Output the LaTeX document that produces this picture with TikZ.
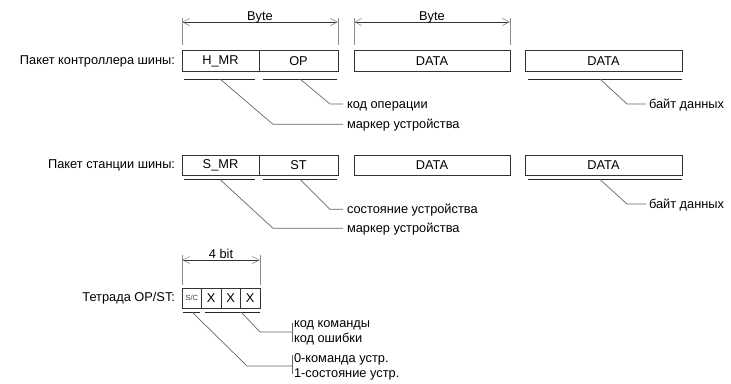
\documentclass[tikz,border=0pt]{standalone}
\usepackage{fontspec}
\setmainfont{Liberation Sans}
\usetikzlibrary{arrows.meta}
\begin{document}
\begin{tikzpicture}[x=1pt,y=-1pt,
  every node/.style={font=\fontsize{12.8}{14}\selectfont, inner sep=0pt, outer sep=0pt},
  cell/.style={draw=black!80, line width=0.8pt, minimum height=#1, anchor=center},
  cell/.default=21pt,
  lbl/.style={anchor=east},
  txt/.style={anchor=base west},
  uline/.style={draw=black!85, line width=0.8pt},
  leader/.style={draw=black!60, line width=0.7pt},
  dimtick/.style={draw=black!45, line width=1pt},
  dimline/.style={draw=black!80, line width=0.8pt,
    {Straight Barb[length=7pt,width=7pt,color=black!45,line width=0.6pt]}-{Straight Barb[length=7pt,width=7pt,color=black!45,line width=0.6pt]}},
  small/.style={font=\fontsize{7.5}{8}\selectfont, text=black!75}
]
\useasboundingbox (0,0) rectangle (731,383);

% ---------- dimensions row 1 ----------
\coordinate (d1a) at (182,18); \coordinate (d1b) at (182,45);
\coordinate (d1c) at (338,18); \coordinate (d1d) at (338,45);
\draw[dimtick] (d1a) -- (d1b);
\draw[dimtick] (d1c) -- (d1d);
\coordinate (d1l) at (182,22); \coordinate (d1r) at (338,22);
\draw[dimline] (d1l) -- (d1r);
\node[anchor=base] (b1) at (260,20.5) {Byte};

\coordinate (d2a) at (354,18); \coordinate (d2b) at (354,45);
\coordinate (d2c) at (510,18); \coordinate (d2d) at (510,45);
\draw[dimtick] (d2a) -- (d2b);
\draw[dimtick] (d2c) -- (d2d);
\coordinate (d2l) at (354,22); \coordinate (d2r) at (510,22);
\draw[dimline] (d2l) -- (d2r);
\node[anchor=base] (b2) at (432,20.5) {Byte};

% ---------- row 1 ----------
\node[lbl] (L1) at (175,61) {Пакет контроллера шины:};
\node[cell, minimum width=77pt] (hmr) at (220.5,61.2) {H\_MR};
\node[cell, minimum width=79pt] (op) at (298.5,61.2) {OP};
\node[cell, minimum width=156pt] (data1) at (432,61.2) {DATA};
\node[cell, minimum width=157pt] (data2) at (603.5,61.2) {DATA};

\coordinate (u1a) at (184,79); \coordinate (u1b) at (255,79);
\coordinate (u2a) at (263,79); \coordinate (u2b) at (337,79);
\coordinate (u3a) at (528,79); \coordinate (u3b) at (682,79);
\draw[uline] (u1a) -- (u1b);
\draw[uline] (u2a) -- (u2b);
\draw[uline] (u3a) -- (u3b);

\node[txt] (t1op) at (347,108) {код операции};
\node[txt] (t1mr) at (347,128.3) {маркер устройства};
\node[txt] (t1d) at (649,108) {байт данных};
\coordinate (s1op) at (300,79); \coordinate (k1op) at (330,104); \coordinate (e1op) at (343,104);
\coordinate (s1mr) at (220,79); \coordinate (k1mr) at (273,124.3); \coordinate (e1mr) at (343,124.3);
\coordinate (s1d) at (600,79); \coordinate (k1d) at (627,104); \coordinate (e1d) at (646,104);
\draw[leader] (s1op) -- (k1op) -- (e1op);
\draw[leader] (s1mr) -- (k1mr) -- (e1mr);
\draw[leader] (s1d) -- (k1d) -- (e1d);

% ---------- row 2 ----------
\node[lbl] (L2) at (175,165) {Пакет станции шины:};
\node[cell=20pt, minimum width=77pt] (smr) at (220.5,165) {S\_MR};
\node[cell=20pt, minimum width=79pt] (st) at (298.5,165) {ST};
\node[cell=20pt, minimum width=156pt] (data3) at (432,165) {DATA};
\node[cell=20pt, minimum width=157pt] (data4) at (603.5,165) {DATA};

\coordinate (v1a) at (184,179.5); \coordinate (v1b) at (255,179.5);
\coordinate (v2a) at (263,179.5); \coordinate (v2b) at (337,179.5);
\coordinate (v3a) at (528,179.5); \coordinate (v3b) at (682,179.5);
\draw[uline] (v1a) -- (v1b);
\draw[uline] (v2a) -- (v2b);
\draw[uline] (v3a) -- (v3b);

\node[txt] (t2st) at (347,213.3) {состояние устройства};
\node[txt] (t2mr) at (347,232.3) {маркер устройства};
\node[txt] (t2d) at (649,208) {байт данных};
\coordinate (s2st) at (300,179.5); \coordinate (k2st) at (330,209.3); \coordinate (e2st) at (343,209.3);
\coordinate (s2mr) at (220,179.5); \coordinate (k2mr) at (273,228.3); \coordinate (e2mr) at (343,228.3);
\coordinate (s2d) at (600,179.5); \coordinate (k2d) at (627,204); \coordinate (e2d) at (646,204);
\draw[leader] (s2st) -- (k2st) -- (e2st);
\draw[leader] (s2mr) -- (k2mr) -- (e2mr);
\draw[leader] (s2d) -- (k2d) -- (e2d);

% ---------- row 3 ----------
\coordinate (d3a) at (182,255); \coordinate (d3b) at (182,285);
\coordinate (d3c) at (260,255); \coordinate (d3d) at (260,285);
\draw[dimtick] (d3a) -- (d3b);
\draw[dimtick] (d3c) -- (d3d);
\coordinate (d3l) at (182,260); \coordinate (d3r) at (260,260);
\draw[dimline] (d3l) -- (d3r);
\node[anchor=base] (b3) at (221,258.5) {4 bit};

\node[lbl] (L3) at (175,298) {Тетрада OP/ST:};
\node[cell=20pt, minimum width=19.5pt, small] (sc) at (191.75,298) {S/C};
\node[cell=20pt, minimum width=19.5pt] (x1) at (211.25,298) {X};
\node[cell=20pt, minimum width=19.5pt] (x2) at (230.75,298) {X};
\node[cell=20pt, minimum width=19.5pt] (x3) at (250.25,298) {X};

\coordinate (w1a) at (183,312); \coordinate (w1b) at (200,312);
\coordinate (w2a) at (205,312); \coordinate (w2b) at (260,312);
\draw[uline] (w1a) -- (w1b);
\draw[uline] (w2a) -- (w2b);

\coordinate (bar1a) at (292,323); \coordinate (bar1b) at (292,342);
\coordinate (bar2a) at (292,355); \coordinate (bar2b) at (292,374);
\draw[leader] (bar1a) -- (bar1b);
\draw[leader] (bar2a) -- (bar2b);
\node[txt] (tk1) at (294,327) {код команды};
\node[txt] (tk2) at (294,342) {код ошибки};
\node[txt] (tk3) at (294,362) {0-команда устр.};
\node[txt] (tk4) at (294,377) {1-состояние устр.};

\coordinate (sx) at (241,312); \coordinate (kx) at (260,332); \coordinate (ex) at (292,332);
\coordinate (ss) at (192,312); \coordinate (ks) at (247,366); \coordinate (es) at (292,366);
\draw[leader] (sx) -- (kx) -- (ex);
\draw[leader] (ss) -- (ks) -- (es);
\end{tikzpicture}
\end{document}
